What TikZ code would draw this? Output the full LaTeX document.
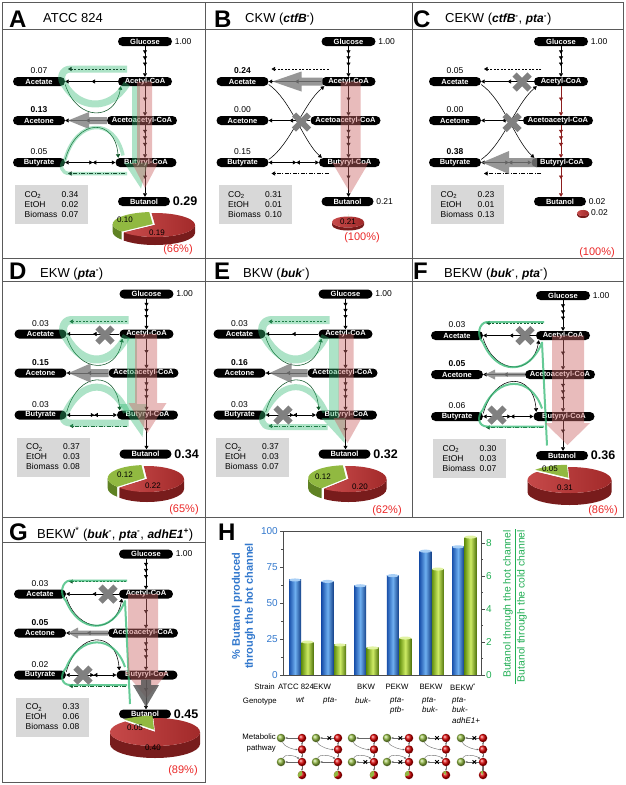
\documentclass[tikz,border=0pt]{standalone}
\usepackage{fontspec}
\setmainfont{Liberation Sans}
\usetikzlibrary{arrows.meta,decorations.markings,calc}
\definecolor{gband}{RGB}{50,185,115}
\definecolor{pband}{RGB}{205,105,105}
\definecolor{garr}{RGB}{125,125,125}
\definecolor{xgray}{RGB}{128,128,128}
\definecolor{dgreen}{RGB}{15,85,40}
\definecolor{chainred}{RGB}{140,30,30}
\definecolor{pctred}{RGB}{235,40,40}
\definecolor{piered}{RGB}{200,75,75}
\definecolor{piered2}{RGB}{160,40,40}
\definecolor{pieredd}{RGB}{120,28,28}
\definecolor{piegrn}{RGB}{145,185,65}
\definecolor{piegrnd}{RGB}{95,130,35}
\definecolor{boxgray}{RGB}{216,216,216}
\definecolor{hblue}{RGB}{50,120,205}
\definecolor{hgreen}{RGB}{35,175,85}
\definecolor{bard}{RGB}{25,80,170}
\definecolor{barl}{RGB}{110,175,240}
\definecolor{gbard}{RGB}{100,145,15}
\definecolor{gbarl}{RGB}{205,235,100}
\definecolor{framec}{RGB}{90,90,90}
\tikzset{
 Tri/.tip={Triangle[length=3.5pt,width=4pt]},
 Tris/.tip={Triangle[length=1.8pt,width=1.8pt]},
 ln/.style={line width=0.55pt},
 m/.style={postaction={decorate,decoration={markings,mark=at position #1 with {\arrow{Tri}}}}},
 bowtie/.style={postaction={decorate,decoration={markings,mark=at position 0.55 with {\arrow{Tri}},mark=at position 0.55 with {\arrowreversed{Tri}}}}},
 met/.style={fill=black,text=white,rounded corners=4.5pt,minimum height=9pt,inner sep=0pt,font=\bfseries\fontsize{7.5}{8}\selectfont},
 num/.style={inner sep=0pt,font=\fontsize{8.5}{9}\selectfont},
 boxs/.style={fill=boxgray,minimum width=73pt,minimum height=39pt,inner sep=0pt,align=left,font=\fontsize{8.5}{10}\selectfont},
 plet/.style={anchor=base west,inner sep=0pt,font=\bfseries\fontsize{24}{24}\selectfont},
 ptit/.style={anchor=base west,inner sep=0pt,font=\fontsize{13}{13}\selectfont},
 pct/.style={inner sep=0pt,text=pctred,font=\fontsize{11}{11}\selectfont},
 pl/.style={inner sep=0pt,font=\fontsize{8}{8}\selectfont},
 gb/.style={draw=gband,draw opacity=0.4,line cap=butt,line join=round},
 gbf/.style={fill=gband,fill opacity=0.4},
 gl/.style={draw=gband,line width=2pt,draw opacity=0.75,line join=round},
 pk/.style={fill=pband,fill opacity=0.45},
 dg/.style={fill=black!65,fill opacity=0.85},
 frame/.style={draw=framec,line width=0.8pt},
 axc/.style={draw=black!70,line width=0.5pt},
 hbl/.style={inner sep=0pt,text=hblue,font=\fontsize{10}{10}\selectfont},
 hgr/.style={inner sep=0pt,text=hgreen,font=\fontsize{10}{10}\selectfont},
 hl/.style={inner sep=0pt,font=\fontsize{7.8}{10.5}\selectfont},
 gball/.style={circle,inner sep=0pt,minimum size=8.5pt,ball color=piegrn},
 rball/.style={circle,inner sep=0pt,minimum size=8.5pt,ball color=red!85!black},
 pw/.style={draw=black!60,line width=0.4pt},
}
\newcommand\genot[2]{{\fontsize{12}{12}\selectfont\bfseries\itshape #1\textsuperscript{#2}}}
\newcommand\bigv[1]{{\fontsize{12.5}{13}\selectfont\bfseries #1}}
\newcommand\panelbase[8]{%
 \node[met,minimum width=54pt] (#1glc) at (0,0) {Glucose};
 \node[met,minimum width=54pt] (#1acc) at (0,40) {Acetyl-CoA};
 \node[met,minimum width=52pt] (#1ace) at (-106,40) {Acetate};
 \node[met,minimum width=52pt] (#1aco) at (-106,79) {Acetone};
 \node[met,minimum width=70pt] (#1aac) at (-3,79) {Acetoacetyl-CoA};
 \node[met,minimum width=52pt] (#1but) at (-106,121) {Butyrate};
 \node[met,minimum width=61pt] (#1buc) at (1,121) {Butyryl-CoA};
 \node[met,minimum width=52pt] (#1bol) at (-1,160) {Butanol};
 \node[num,anchor=west] (#1g1) at ([xshift=2.5pt]#1glc.east) {1.00};
 \node[num,anchor=south] (#1v1) at ([yshift=3pt]#1ace.north) {#2};
 \node[num,anchor=south] (#1v2) at ([yshift=3pt]#1aco.north) {#3};
 \node[num,anchor=south] (#1v3) at ([yshift=3pt]#1but.north) {#4};
 \node[num,anchor=west] (#1v4) at ([xshift=2.5pt]#1bol.east) {#5};
 \node[boxs] (#1box) at (-93.5,163) {\makebox[37pt][l]{CO\textsubscript{2}}#6\\\makebox[37pt][l]{EtOH}#7\\\makebox[37pt][l]{Biomass}#8};
 \draw[color=\chaincolA,ln,-Tri,m=0.25,m=0.45,m=0.65] (#1glc.south) -- (#1acc.north);
 \draw[color=\chaincolB,ln,-Tri,m=0.5] (#1acc.south) -- (#1acc.south |- #1aac.north);
 \draw[color=\chaincolB,ln,-Tri,m=0.25,m=0.45,m=0.65] (#1acc.south |- #1aac.south) -- (#1acc.south |- #1buc.north);
 \draw[color=\chaincolB,ln,-Tri,m=0.4] (#1acc.south |- #1buc.south) -- (#1acc.south |- #1bol.north);
 \draw[ln,-Tri,m=0.5] (#1acc.west) -- (#1ace.east);
 \draw[ln,-Tri,m=0.5] (#1aac.west) -- (#1aco.east);
 \draw[ln,Tri-Tri,bowtie] (#1but.east) -- (#1buc.west);
 \coordinate (#1d1) at (-20,27.5); \coordinate (#1d2) at (-77,27.5);
 \coordinate (#1d3) at (-20,132); \coordinate (#1d4) at (-77,132);
 \draw[color=\dashcol,ln,dash pattern=on 2pt off 1.5pt,-Tri] (#1d1) -- (#1d2);
 \draw[color=\dashcol,ln,dash pattern=on 4pt off 1.5pt on 1pt off 1.5pt,-Tri] (#1d3) -- (#1d4);
}
\newcommand\loopsP[2]{%
 \draw[color=#2,ln,-Tri] ([yshift=-3pt]#1ace.east) .. controls (-68,80) and (-30,80) .. ([xshift=3pt]#1acc.south west);
 \draw[color=#2,ln,-Tri] ([yshift=3pt]#1but.east) .. controls (-68,76) and (-30,76) .. ([xshift=3pt]#1buc.north west);
}
\newcommand\crossP[2]{%
 \draw[color=#2,ln,-Tri] ([yshift=-3pt]#1ace.east) .. controls (-58,58) and (-45,100) .. ([xshift=3pt]#1buc.north west);
 \draw[color=#2,ln,-Tri] ([yshift=3pt]#1but.east) .. controls (-58,103) and (-45,62) .. ([xshift=3pt]#1acc.south west);
}
\newcommand\xm[2]{\draw[xgray,line width=6pt] (#1-7.5,#2-7.5) -- (#1+7.5,#2+7.5) (#1-7.5,#2+7.5) -- (#1+7.5,#2-7.5);}
\newcommand\garrowL[7][garr]{\fill[#1,fill opacity=0.8] (#2,#5-#6) -- (#3,#5-#6) -- (#3,#5-#7) -- (#4,#5) -- (#3,#5+#7) -- (#3,#5+#6) -- (#2,#5+#6) -- cycle;}
\newcommand\varrow[8][pk]{\fill[#1] (#2,#4) -- (#3,#4) -- (#3,#5) -- (#7,#5) -- ({(#6+#7)/2},#8) -- (#6,#5) -- (#2,#5) -- cycle;}
\newcommand\pieC[7]{%
 \pgfmathsetmacro\pieA{max(#7,180)}%
 \pgfmathsetmacro\pieM{(#6+#7)/2}%
 \pgfmathsetmacro\pieE{#6+360}%
 \begin{scope}[shift={(#1,#2)}]
  \fill[pieredd] (\pieA:#3pt and #4pt) arc[start angle=\pieA,end angle=360,x radius=#3pt,y radius=#4pt] -- ++(0,#5) arc[start angle=360,end angle=\pieA,x radius=#3pt,y radius=#4pt] -- cycle;
  \fill[pieredd] (0,0) -- (#7:#3pt and #4pt) -- ++(0,#5) -- (0,#5) -- cycle;
  \shade[left color=piered,right color=piered2] (0,0) -- (#7:#3pt and #4pt) arc[start angle=#7,end angle=\pieE,x radius=#3pt,y radius=#4pt] -- cycle;
  \begin{scope}[shift={(\pieM:2.5pt)}]
   \ifdim #7pt>180pt
    \fill[piegrnd] (180:#3pt and #4pt) arc[start angle=180,end angle=#7,x radius=#3pt,y radius=#4pt] -- ++(0,#5) arc[start angle=#7,end angle=180,x radius=#3pt,y radius=#4pt] -- cycle;
   \fi
   \fill[piegrn] (0,0) -- (#6:#3pt and #4pt) arc[start angle=#6,end angle=#7,x radius=#3pt,y radius=#4pt] -- cycle;
  \end{scope}
 \end{scope}}
\newcommand\xsm[2]{\path (#1) -- (#2) coordinate[pos=0.32] (#1x#2); \draw[black,line width=0.9pt] ([shift={(-1.8pt,-1.8pt)}]#1x#2) -- ([shift={(1.8pt,1.8pt)}]#1x#2) ([shift={(-1.8pt,1.8pt)}]#1x#2) -- ([shift={(1.8pt,-1.8pt)}]#1x#2);}
\newcommand\pwicon[7]{%
 \node[gball] (#1g1) at (#2,738) {};
 \node[rball] (#1r1) at (#3,738) {};
 \node[rball] (#1r2) at (#3,749.5) {};
 \node[gball] (#1g2) at (#2,762) {};
 \node[rball] (#1r3) at (#3,762) {};
 \node[rball] (#1r4) at (#3,775) {};
 \fill[piegrn] (#1r4.center) -- ++(90:4.25pt) arc[start angle=90,end angle=#7,radius=4.25pt] -- cycle;
 \draw[pw,-Tris] (#1r1) -- (#1g1);
 \draw[pw,-Tris] (#1r1) -- (#1r2);
 \draw[pw,-Tris] (#1r2) -- (#1r3);
 \draw[pw,-Tris] (#1r3) -- (#1r4);
 \draw[pw,-Tris] (#1r3) -- (#1g2);
 \draw[pw,-Tris] (#1g1) .. controls +(3,9) and +(-8,0) .. (#1r2);
 \draw[pw,-Tris] (#1g2) .. controls +(4,-9) and +(-6,-6) .. (#1r3);
 \ifnum#4=1 \xsm{#1r1}{#1g1}\fi
 \ifnum#5=1 \xsm{#1r3}{#1g2}\fi
}
\begin{document}
\begin{tikzpicture}[x=1pt,y=-1pt]
\useasboundingbox (0,0) rectangle (625,785);
\fill[white] (0,0) rectangle (625,785);
% frames
\draw[frame] (2,2) rectangle (623,517);
\draw[frame] (205,2) -- (205,517) (412,2) -- (412,517);
\draw[frame] (2,258) -- (623,258) (2,29) -- (623,29) (2,281) -- (623,281);
\draw[frame] (2,517) rectangle (205,782);
\draw[frame] (2,542) -- (205,542);
% titles
\node[plet] (tA) at (9,27) {A};
\node[ptit] (tAt) at (43,22.5) {ATCC 824};
\node[plet] (tB) at (214,27) {B};
\node[ptit] (tBt) at (245,22.5) {CKW (\genot{ctfB}{-})};
\node[plet] (tC) at (413,27) {C};
\node[ptit] (tCt) at (445,22.5) {CEKW (\genot{ctfB}{-}, \genot{pta}{-})};
\node[plet] (tD) at (9,279) {D};
\node[ptit] (tDt) at (40,277) {EKW (\genot{pta}{-})};
\node[plet] (tE) at (214,279) {E};
\node[ptit] (tEt) at (243,277) {BKW (\genot{buk}{-})};
\node[plet] (tF) at (413,279) {F};
\node[ptit] (tFt) at (444,277) {BEKW (\genot{buk}{-}, \genot{pta}{-})};
\node[plet] (tG) at (9,540) {G};
\node[ptit] (tGt) at (37,538) {BEKW\textsuperscript{*} (\genot{buk}{-}, \genot{pta}{-}, \genot{adhE1}{+})};
% ---------- A
\begin{scope}[shift={(145,41.5)}]
\def\chaincolA{black}\def\chaincolB{black}\def\dashcol{black}
\panelbase{a}{0.07}{\textbf{0.13}}{0.05}{\bigv{0.29}}{0.34}{0.02}{0.07}
\loopsP{a}{dgreen}
\garrowL{-38}{-56}{-77}{79}{3.5}{8.5}
\draw[gb,line width=7pt] (-18,27.5) -- (-74,27.5) .. controls (-84,27.5) and (-86,38) .. (-80,44) .. controls (-65,68) and (-35,70) .. (-18,42);
\draw[gb,line width=3.5pt] (-18,132) -- (-75,132) .. controls (-84,132) and (-86,124) .. (-80,118) .. controls (-68,76) and (-30,76) .. (-22,114);
\draw[gb,line width=8pt] (-9,44) -- (-9,121);
\fill[gbf] (-21,121) -- (3,121) -- (-4,147) -- cycle;
\varrow{-8}{7}{40}{121.5}{-13}{13}{146.5}
\end{scope}
% ---------- B
\begin{scope}[shift={(348.5,41.5)}]
\def\chaincolA{black}\def\chaincolB{black}\def\dashcol{black}
\panelbase{b}{\textbf{0.24}}{0.00}{0.15}{0.21}{0.31}{0.01}{0.10}
\crossP{b}{black}
\garrowL{-26}{-47}{-76}{40}{4}{10}
\varrow{-8}{12}{40}{121.5}{-16}{20}{152}
\xm{-47}{80.5}
\end{scope}
% ---------- C
\begin{scope}[shift={(561,41.5)}]
\def\chaincolA{black}\def\chaincolB{chainred}\def\dashcol{black}
\panelbase{c}{0.05}{0.00}{\textbf{0.38}}{0.02}{0.23}{0.01}{0.13}
\crossP{c}{black}
\garrowL{-24}{-52}{-79}{121}{4.5}{11.5}
\xm{-39}{40.5}
\xm{-49}{81}
\end{scope}
% ---------- D
\begin{scope}[shift={(146.5,294)}]
\def\chaincolA{black}\def\chaincolB{black}\def\dashcol{dgreen}
\panelbase{d}{0.03}{\textbf{0.15}}{0.03}{\bigv{0.34}}{0.37}{0.03}{0.08}
\loopsP{d}{dgreen}
\garrowL{-38}{-56}{-78}{79}{4}{9.5}
\draw[gb,line width=8pt] (-18,26) -- (-75,26) .. controls (-84,26) and (-86,38) .. (-80,44) .. controls (-64,72) and (-36,74) .. (-20,42);
\draw[gb,line width=7pt] (-18,129) -- (-75,129) .. controls (-84,129) and (-86,124) .. (-80,117) .. controls (-64,86) and (-36,84) .. (-20,118);
\draw[gb,line width=10pt] (-15,44) -- (-15,110);
\fill[gbf] (-27,110) -- (0,110) -- (-4,143) -- cycle;
\varrow{-11.5}{10.5}{40}{109}{-18}{20}{139}
\xm{-41.5}{41}
\end{scope}
% ---------- E
\begin{scope}[shift={(345.5,294)}]
\def\chaincolA{black}\def\chaincolB{black}\def\dashcol{dgreen}
\panelbase{e}{0.03}{\textbf{0.16}}{0.03}{\bigv{0.32}}{0.37}{0.03}{0.07}
\loopsP{e}{dgreen}
\garrowL{-38}{-54}{-76}{79}{4}{10}
\draw[gb,line width=8pt] (-16,26) -- (-74,26) .. controls (-84,26) and (-86,38) .. (-80,44) .. controls (-64,72) and (-36,74) .. (-20,42);
\draw[gb,line width=6pt] (-18,133) -- (-75,133) .. controls (-84,133) and (-86,124) .. (-80,117) .. controls (-64,86) and (-36,84) .. (-20,118);
\draw[gb,line width=10pt] (-12,44) -- (-12,124);
\fill[gbf] (-24,124) -- (0,124) -- (-1,149) -- cycle;
\varrow{-7}{8}{40}{124}{-12}{16}{149}
\xm{-62.5}{121}
\end{scope}
% ---------- F
\begin{scope}[shift={(563,295.5)}]
\def\chaincolA{black}\def\chaincolB{black}\def\dashcol{dgreen}
\panelbase{f}{0.03}{\textbf{0.05}}{0.06}{\bigv{0.36}}{0.30}{0.03}{0.07}
\loopsP{f}{black}
\garrowL{-38}{-68}{-78}{79}{2}{5}
\draw[gl] (-19,26.5) -- (-76,26.5) .. controls (-84,27) and (-87,40) .. (-80,47) .. controls (-66,80) and (-34,80) .. (-21,47) -- (-16,150);
\draw[gl] (-19,131) -- (-76,131) .. controls (-84,131) and (-87,122) .. (-80,114) .. controls (-66,80) and (-32,80) .. (-21,113);
\varrow{-11}{21}{40}{127.5}{-18}{27}{149.5}
\xm{-38}{40}
\xm{-66}{119.5}
\end{scope}
% ---------- G
\begin{scope}[shift={(146,554)}]
\def\chaincolA{black}\def\chaincolB{black}\def\dashcol{dgreen}
\panelbase{g}{0.03}{\textbf{0.05}}{0.02}{\bigv{0.45}}{0.33}{0.06}{0.08}
\loopsP{g}{black}
\garrowL{-38}{-68}{-78}{79}{2.5}{5.5}
\draw[gl] (-19,26.5) -- (-76,26.5) .. controls (-84,27) and (-87,40) .. (-80,47) .. controls (-66,80) and (-34,80) .. (-21,47) -- (-16,150);
\draw[gl] (-19,131) -- (-76,131) .. controls (-84,131) and (-87,122) .. (-80,114) .. controls (-66,80) and (-32,80) .. (-21,113);
\varrow{-18}{12}{40}{118}{-21}{22}{144}
\varrow[dg]{-5}{5}{125.5}{131}{-13}{13}{153}
\xm{-38}{40}
\xm{-63}{121}
\end{scope}
% ---------- pies
\pieC{155}{225}{40}{12}{8}{95}{219}
\node[pl] (apg) at (125,220) {0.10};
\node[pl] (apr) at (157,233) {0.19};
\node[pct] (app) at (178,250) {(66\%)};
\pieC{348}{222}{16}{5.5}{3}{90}{90}
\node[pl] (bpr) at (348,222) {0.21};
\node[pct] (bpp) at (362,238) {(100\%)};
\pieC{583}{213}{6}{3}{2}{90}{90}
\node[pl,anchor=west,font=\fontsize{8.5}{9}\selectfont] (cpr) at (591,213) {0.02};
\node[pct] (cpp) at (597,253) {(100\%)};
\pieC{147}{479}{37}{13}{10}{95}{222}
\node[pl] (dpg) at (125,475) {0.12};
\node[pl] (dpr) at (153,486) {0.22};
\node[pct] (dpp) at (184,510) {(65\%)};
\pieC{348.5}{479}{38}{13}{10}{95}{230}
\node[pl] (epg) at (323,477) {0.12};
\node[pl] (epr) at (360,487) {0.20};
\node[pct] (epp) at (387,511) {(62\%)};
\pieC{569.5}{480}{42}{13}{12}{92}{142}
\node[pl] (fpg) at (550,469) {0.05};
\node[pl] (fpr) at (565,488) {0.31};
\node[pct] (fpp) at (603,511) {(86\%)};
\pieC{155}{732}{45}{14}{12}{92}{132}
\node[pl] (gpg) at (135,728) {0.05};
\node[pl] (gpr) at (153,748) {0.40};
\node[pct] (gpp) at (183,771) {(89\%)};
% ---------- H
\node[plet] (tH) at (218,540) {H};
\foreach \i/\b/\g in {0/66/2.0,1/65/1.82,2/62/1.64,3/69/2.24,4/86/6.42,5/89/8.36} {
  \pgfmathsetmacro\xb{289+32.6*\i}
  \pgfmathsetmacro\yb{675-1.44*\b}
  \pgfmathsetmacro\yg{675-16.5*\g}
  \shade[left color=bard,right color=bard!80!black,middle color=barl] (\xb,675) rectangle (\xb+12,\yb);
  \fill[barl!60!white] (\xb+6,\yb) ellipse (6pt and 1.5pt);
  \shade[left color=gbard,right color=gbard!80!black,middle color=gbarl] (\xb+12.5,675) rectangle (\xb+24.5,\yg);
  \fill[gbarl!60!white] (\xb+18.5,\yg) ellipse (6pt and 1.5pt);
}
\draw[axc] (283,531) rectangle (481,675);
\foreach \v in {0,25,50,75,100} {
  \draw[axc] (283,675-1.44*\v) -- (279.5,675-1.44*\v);
  \node[hbl,anchor=east] (yl\v) at (278,675-1.44*\v) {\v};
}
\foreach \v in {12.5,37.5,62.5,87.5} {\draw[axc] (283,675-1.44*\v) -- (281,675-1.44*\v);}
\foreach \v in {0,2,4,6,8} {
  \draw[axc] (481,675-16.5*\v) -- (484.5,675-16.5*\v);
  \node[hgr,anchor=west] (yr\v) at (486,675-16.5*\v) {\v};
}
\foreach \v in {1,3,5,7} {\draw[axc] (481,675-16.5*\v) -- (483,675-16.5*\v);}
\node[rotate=90,align=center,text=hblue,font=\bfseries\fontsize{11}{13}\selectfont] (ylab) at (243.5,606) {\% Butanol produced\\through the hot channel};
\node[rotate=90,text=hgreen,inner sep=0pt,font=\fontsize{10.4}{11}\selectfont] (rlab1) at (508,604) {Butanol through the hot channel};
\node[rotate=90,text=hgreen,inner sep=0pt,font=\fontsize{10.4}{11}\selectfont] (rlab2) at (522,606) {Butanol through the cold channel};
\coordinate (fb1) at (515.5,529); \coordinate (fb2) at (515.5,684);
\draw[hgreen,line width=0.6pt] (fb1) -- (fb2);
\node[hl,anchor=east] (hs) at (275,687) {Strain};
\node[hl] (hs1) at (296,687) {ATCC 824};
\node[hl] (hs2) at (322,687) {EKW};
\node[hl] (hs3) at (366,687) {BKW};
\node[hl] (hs4) at (397,687) {PEKW};
\node[hl] (hs5) at (431,687) {BEKW};
\node[hl] (hs6) at (463,687) {BEKW\textsuperscript{*}};
\node[hl,anchor=east] (hg) at (277,702) {Genotype};
\node[hl,anchor=north west,align=left,font=\itshape\fontsize{8}{10.5}\selectfont] (hg1) at (296,697) {wt};
\node[hl,anchor=north west,align=left,font=\itshape\fontsize{8}{10.5}\selectfont] (hg2) at (323,697) {pta-};
\node[hl,anchor=north west,align=left,font=\itshape\fontsize{8}{10.5}\selectfont] (hg3) at (355,697) {buk-};
\node[hl,anchor=north west,align=left,font=\itshape\fontsize{8}{10.5}\selectfont] (hg4) at (390,697) {pta-\\ptb-};
\node[hl,anchor=north west,align=left,font=\itshape\fontsize{8}{10.5}\selectfont] (hg5) at (422,697) {pta-\\buk-};
\node[hl,anchor=north west,align=left,font=\itshape\fontsize{8}{10.5}\selectfont] (hg6) at (452,697) {pta-\\buk-\\adhE1+};
\node[hl,anchor=east,align=right] (hm) at (276,743) {Metabolic\\pathway};
\draw[gray,line width=2.6pt] (483,762) -- (483,775);
\pwicon{p1}{281}{302}{0}{0}{0}{214}
\pwicon{p2}{316}{338}{1}{0}{0}{217}
\pwicon{p3}{352}{374}{0}{1}{0}{225}
\pwicon{p4}{387}{409}{1}{1}{0}{202}
\pwicon{p5}{423}{446}{1}{1}{0}{140}
\pwicon{p6}{461}{483}{1}{1}{1}{130}
\end{tikzpicture}
\end{document}
